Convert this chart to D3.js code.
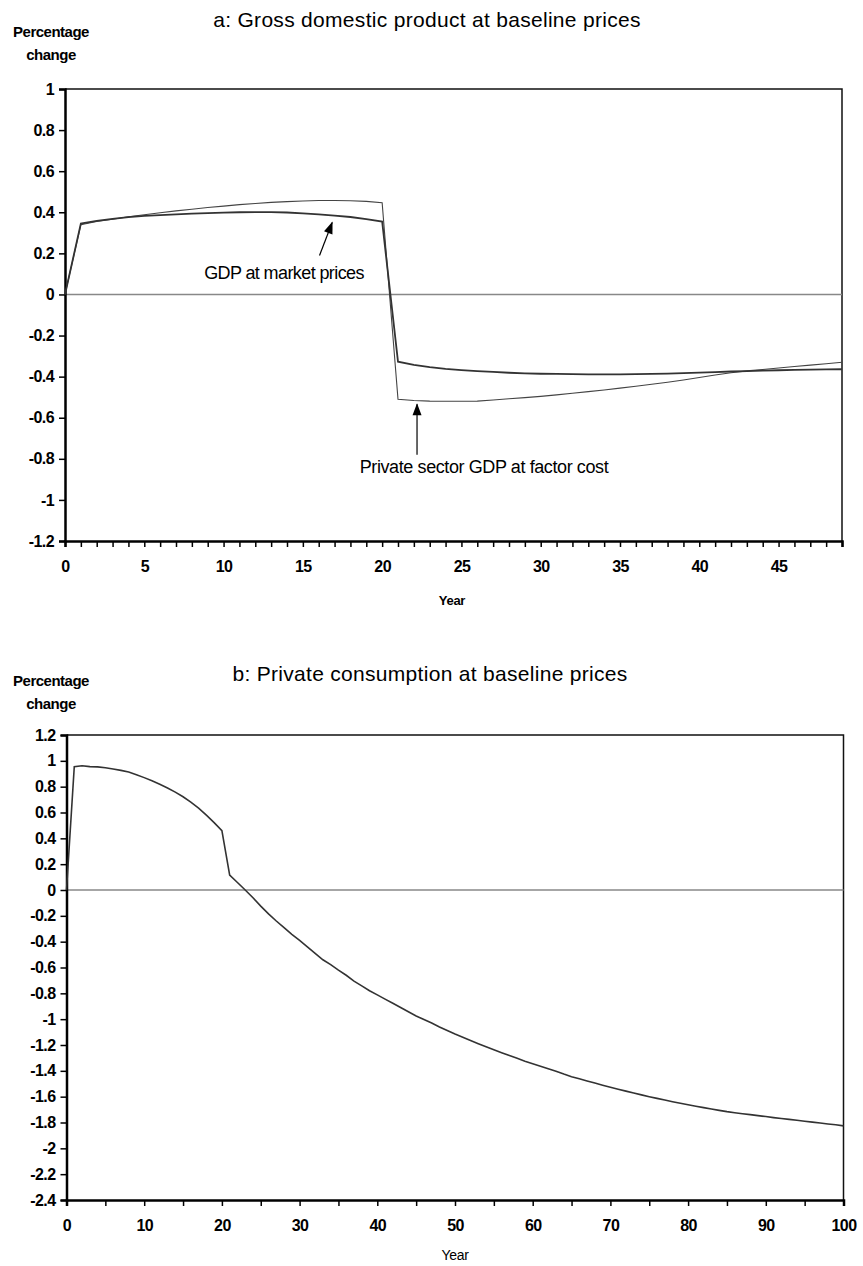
<!DOCTYPE html>
<html lang="en">
<head>
    <meta charset="UTF-8">
    <title>GDP and private consumption, percentage change</title>
    <script src="https://cdn.jsdelivr.net/npm/d3@7/dist/d3.min.js"></script>
    <style>
        body { margin: 0; background: #fff; }
        text { font-family: Arial, "Liberation Sans", sans-serif; }
    </style>
</head>
<body>
<script type="application/javascript">
    // panel a: years 0..49
    const yearsA = d3.range(0, 50);
    const gdpMarket = [
        0, 0.345, 0.358, 0.368, 0.376, 0.382, 0.386, 0.390, 0.393, 0.396,
        0.398, 0.400, 0.401, 0.401, 0.399, 0.395, 0.390, 0.384, 0.377, 0.367,
        0.355, -0.327, -0.343, -0.354, -0.362, -0.368, -0.373, -0.377, -0.381, -0.384,
        -0.386, -0.387, -0.388, -0.389, -0.389, -0.389, -0.388, -0.387, -0.385, -0.383,
        -0.380, -0.378, -0.375, -0.373, -0.371, -0.369, -0.367, -0.366, -0.365, -0.364
    ];
    const gdpFactor = [
        0, 0.340, 0.355, 0.366, 0.378, 0.388, 0.398, 0.407, 0.415, 0.423,
        0.430, 0.437, 0.443, 0.448, 0.452, 0.455, 0.457, 0.457, 0.456, 0.453,
        0.446, -0.510, -0.516, -0.519, -0.520, -0.520, -0.519, -0.514, -0.508, -0.502,
        -0.496, -0.489, -0.481, -0.473, -0.465, -0.456, -0.447, -0.437, -0.427, -0.416,
        -0.404, -0.392, -0.381, -0.372, -0.365, -0.358, -0.351, -0.344, -0.337, -0.330
    ];
    const yTicksA = [1, 0.8, 0.6, 0.4, 0.2, 0, -0.2, -0.4, -0.6, -0.8, -1, -1.2];
    const xLabelsA = [0, 5, 10, 15, 20, 25, 30, 35, 40, 45];

    // panel b: years 0..100
    const yearsB = d3.range(0, 101);
    const consumption = [
        0, 0.954, 0.962, 0.955, 0.953, 0.946, 0.937, 0.926, 0.913, 0.893,
        0.870, 0.845, 0.818, 0.790, 0.758, 0.722, 0.680, 0.634, 0.580, 0.522,
        0.459, 0.116, 0.058, 0.000, -0.060, -0.125, -0.185, -0.240, -0.292, -0.343,
        -0.390, -0.440, -0.490, -0.540, -0.578, -0.620, -0.660, -0.705, -0.742, -0.780,
        -0.812, -0.845, -0.877, -0.910, -0.943, -0.975, -1.003, -1.030, -1.060, -1.088,
        -1.115, -1.140, -1.165, -1.190, -1.214, -1.237, -1.260, -1.282, -1.303, -1.325,
        -1.345, -1.364, -1.384, -1.403, -1.425, -1.445, -1.462, -1.478, -1.495, -1.511,
        -1.527, -1.542, -1.557, -1.572, -1.586, -1.600, -1.613, -1.626, -1.639, -1.651,
        -1.663, -1.674, -1.685, -1.695, -1.706, -1.716, -1.724, -1.732, -1.739, -1.747,
        -1.754, -1.762, -1.769, -1.776, -1.783, -1.790, -1.797, -1.804, -1.811, -1.818,
        -1.826
    ];
    const yTicksB = [1.2, 1, 0.8, 0.6, 0.4, 0.2, 0, -0.2, -0.4, -0.6, -0.8, -1, -1.2,
        -1.4, -1.6, -1.8, -2, -2.2, -2.4];
    const xLabelsB = [0, 10, 20, 30, 40, 50, 60, 70, 80, 90, 100];

    const W = 863, H = 1266;
    let svg = d3.select('body')
        .append('svg')
        .attr('width', W)
        .attr('height', H);

    // arrow head
    svg.append('defs').append('marker')
        .attr('id', 'head')
        .attr('viewBox', '0 0 12 10')
        .attr('refX', 11).attr('refY', 5)
        .attr('markerWidth', 13).attr('markerHeight', 10)
        .attr('markerUnits', 'userSpaceOnUse')
        .attr('orient', 'auto')
        .append('path')
        .attr('d', 'M0,0.5 L12,5 L0,9.5 Z')
        .attr('fill', '#000');

    const fmt = d => String(d);

    function panel(opt) {
        let g = svg.append('g');
        let x = d3.scaleLinear().domain(opt.xDomain).range([opt.left, opt.right]);
        let y = d3.scaleLinear().domain(opt.yDomain).range([opt.bottom, opt.top]);

        // title + y label
        g.append('text')
            .attr('x', opt.titleX).attr('y', opt.titleY)
            .attr('text-anchor', 'middle')
            .attr('font-size', '21px')
            .attr('letter-spacing', '0.3px')
            .text(opt.title);
        g.append('text')
            .attr('x', 51).attr('y', opt.labelY)
            .attr('text-anchor', 'middle')
            .attr('font-size', '15px')
            .attr('font-weight', 'bold')
            .attr('letter-spacing', '-0.5px')
            .text('Percentage');
        g.append('text')
            .attr('x', 51).attr('y', opt.labelY + 23)
            .attr('text-anchor', 'middle')
            .attr('font-size', '15px')
            .attr('font-weight', 'bold')
            .attr('letter-spacing', '-0.5px')
            .text('change');

        // plot frame (top and right)
        g.append('path')
            .attr('d', `M${opt.left},${opt.top}H${opt.right}V${opt.bottom}`)
            .attr('fill', 'none')
            .attr('stroke', '#111')
            .attr('stroke-width', 1.5);

        // zero line
        g.append('line')
            .attr('x1', opt.left).attr('x2', opt.right)
            .attr('y1', y(0)).attr('y2', y(0))
            .attr('stroke', '#888')
            .attr('stroke-width', 1.5);

        // y axis
        let yAxis = d3.axisLeft(y)
            .tickValues(opt.yTicks)
            .tickSize(6)
            .tickPadding(5)
            .tickFormat(fmt);
        let ya = g.append('g')
            .attr('transform', `translate(${opt.left},0)`)
            .call(yAxis);
        ya.select('.domain').attr('stroke-width', 2.5).attr('stroke', '#000');
        ya.selectAll('.tick line').attr('stroke-width', 1.5);
        ya.selectAll('.tick text')
            .attr('font-size', '16px')
            .attr('font-weight', 'bold')
            .attr('letter-spacing', '-0.6px')
            .attr('font-family', 'Arial, "Liberation Sans", sans-serif');

        // x axis: ticks at every step, labels on a subset
        let xAxis = d3.axisBottom(x)
            .tickValues(opt.xTicks)
            .tickSize(6)
            .tickPadding(14)
            .tickFormat(d => opt.xLabels.includes(d) ? fmt(d) : '');
        let xa = g.append('g')
            .attr('transform', `translate(0,${opt.bottom})`)
            .call(xAxis);
        xa.select('.domain').attr('stroke-width', 2.5).attr('stroke', '#000');
        xa.selectAll('.tick line').attr('stroke-width', 1.5);
        xa.selectAll('.tick text')
            .attr('font-size', '16px')
            .attr('font-weight', 'bold')
            .attr('letter-spacing', '-0.6px')
            .attr('font-family', 'Arial, "Liberation Sans", sans-serif');

        g.append('text')
            .attr('x', opt.yearX).attr('y', opt.yearY)
            .attr('text-anchor', 'middle')
            .attr('font-size', opt.yearBold ? '13px' : '14px')
            .attr('font-weight', opt.yearBold ? 'bold' : 'normal')
            .attr('letter-spacing', '-0.3px')
            .text('Year');

        return { g, x, y };
    }

    // ---- panel a ----
    let a = panel({
        left: 65, right: 842, top: 89, bottom: 541,
        xDomain: [0, 49], yDomain: [-1.2, 1],
        yTicks: yTicksA, xTicks: yearsA, xLabels: xLabelsA,
        title: 'a: Gross domestic product at baseline prices',
        titleX: 427, titleY: 27, labelY: 37,
        yearX: 452, yearY: 605, yearBold: true
    });

    let lineA = data => d3.line()
        .x((d, i) => a.x(yearsA[i]))
        .y(d => a.y(d))(data);

    a.g.append('path')
        .attr('d', lineA(gdpFactor))
        .attr('fill', 'none')
        .attr('stroke', '#444')
        .attr('stroke-width', 1.1);
    a.g.append('path')
        .attr('d', lineA(gdpMarket))
        .attr('fill', 'none')
        .attr('stroke', '#333')
        .attr('stroke-width', 1.8);

    // annotations
    a.g.append('text')
        .attr('x', 284).attr('y', 279)
        .attr('text-anchor', 'middle')
        .attr('font-size', '18px')
        .attr('letter-spacing', '-0.6px')
        .text('GDP at market prices');
    a.g.append('line')
        .attr('x1', a.x(16.05)).attr('y1', a.y(0.19))
        .attr('x2', a.x(16.85)).attr('y2', a.y(0.35))
        .attr('stroke', '#000')
        .attr('stroke-width', 1.2)
        .attr('marker-end', 'url(#head)');

    a.g.append('text')
        .attr('x', 484).attr('y', 473)
        .attr('text-anchor', 'middle')
        .attr('font-size', '18px')
        .attr('letter-spacing', '-0.4px')
        .text('Private sector GDP at factor cost');
    a.g.append('line')
        .attr('x1', a.x(22.2)).attr('y1', a.y(-0.78))
        .attr('x2', a.x(22.2)).attr('y2', a.y(-0.535))
        .attr('stroke', '#000')
        .attr('stroke-width', 1.2)
        .attr('marker-end', 'url(#head)');

    // ---- panel b ----
    let b = panel({
        left: 66.5, right: 843.5, top: 735, bottom: 1200,
        xDomain: [0, 100], yDomain: [-2.4, 1.2],
        yTicks: yTicksB, xTicks: d3.range(0, 101, 5), xLabels: xLabelsB,
        title: 'b: Private consumption at baseline prices',
        titleX: 430, titleY: 681, labelY: 686,
        yearX: 455, yearY: 1260, yearBold: false
    });

    b.g.append('path')
        .attr('d', d3.line()
            .x((d, i) => b.x(yearsB[i]))
            .y(d => b.y(d))(consumption))
        .attr('fill', 'none')
        .attr('stroke', '#333')
        .attr('stroke-width', 1.6);
</script>
</body>
</html>
